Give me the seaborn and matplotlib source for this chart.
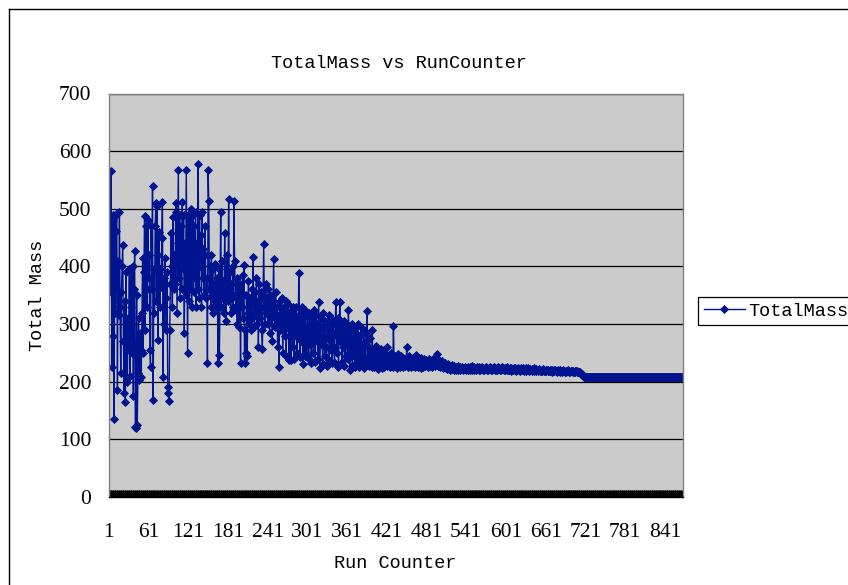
import matplotlib
matplotlib.use("Agg")
import matplotlib.pyplot as plt
from matplotlib.lines import Line2D
from matplotlib.ticker import MultipleLocator
import pandas as pd
import seaborn as sns

# ---- data (Total Mass per run) ----
mass_001_060 = [355, 370, 360, 565, 362, 226, 490, 280, 135, 488,
                320, 461, 492, 186, 410, 315, 495, 330, 215, 355,
                400, 438, 270, 180, 340, 165, 390, 255, 200, 310,
                261, 395, 210, 330, 398, 250, 400, 175, 360, 426,
                122, 120, 350, 125, 215, 310, 203, 285, 255, 209,
                320, 415, 250, 390, 487, 290, 470, 360, 330, 480]
mass_061_120 = [380, 420, 255, 226, 470, 360, 540, 168, 395, 320,
                470, 510, 340, 505, 273, 420, 460, 330, 395, 365,
                450, 512, 209, 380, 300, 415, 345, 290, 390, 190,
                180, 167, 290, 370, 458, 400, 330, 485, 360, 420,
                370, 495, 510, 320, 440, 568, 380, 490, 345, 470,
                360, 512, 395, 490, 284, 440, 350, 568, 410, 250]
mass_121_180 = [490, 340, 485, 360, 500, 330, 420, 490, 355, 470,
                380, 495, 330, 440, 360, 577, 345, 490, 400, 455,
                330, 495, 380, 430, 350, 470, 420, 345, 380, 232,
                568, 514, 360, 400, 330, 420, 350, 395, 320, 370,
                340, 405, 330, 380, 350, 232, 395, 247, 345, 494,
                330, 410, 355, 375, 320, 458, 340, 305, 420, 360]
mass_181_240 = [340, 517, 350, 390, 320, 370, 345, 400, 330, 513,
                409, 350, 325, 380, 300, 360, 340, 295, 370, 232,
                355, 330, 385, 310, 403, 232, 290, 249, 350, 244,
                320, 375, 300, 345, 330, 290, 360, 310, 416, 340,
                295, 355, 320, 380, 300, 340, 260, 370, 330, 310,
                355, 290, 257, 345, 439, 330, 300, 370, 320, 345]
mass_241_300 = [300, 360, 325, 285, 350, 310, 330, 270, 340, 413,
                320, 295, 355, 300, 330, 260, 310, 226, 340, 290,
                320, 345, 300, 250, 330, 310, 280, 340, 245, 320,
                295, 335, 237, 310, 290, 238, 325, 300, 260, 330,
                240, 315, 285, 330, 250, 305, 275, 389, 300, 243,
                320, 270, 330, 230, 310, 290, 245, 325, 280, 244]
mass_301_360 = [315, 290, 240, 320, 265, 300, 232, 310, 280, 250,
                325, 295, 235, 315, 270, 300, 240, 339, 285, 224,
                310, 265, 295, 230, 320, 280, 245, 305, 260, 228,
                300, 275, 315, 238, 290, 255, 310, 232, 285, 300,
                260, 233, 305, 338, 280, 250, 310, 226, 295, 338,
                270, 300, 235, 285, 260, 305, 228, 290, 245, 275]
mass_361_420 = [300, 240, 325, 265, 220, 290, 250, 300, 228, 275,
                245, 295, 225, 260, 285, 235, 300, 250, 225, 280,
                240, 295, 230, 265, 245, 290, 224, 270, 240, 285,
                322, 235, 260, 228, 275, 240, 252, 225, 290, 238,
                255, 226, 248, 232, 262, 228, 245, 222, 250, 235,
                228, 256, 224, 242, 230, 250, 226, 238, 232, 248]
mass_421_480 = [261, 228, 245, 230, 240, 225, 250, 232, 238, 226,
                296, 235, 228, 245, 230, 240, 224, 248, 232, 236,
                226, 244, 230, 238, 225, 242, 233, 228, 240, 230,
                261, 236, 226, 244, 230, 238, 225, 240, 232, 228,
                242, 230, 236, 226, 247, 232, 238, 226, 240, 230,
                235, 224, 242, 230, 236, 226, 240, 232, 228, 238]
mass_481_540 = [230, 236, 226, 240, 232, 228, 238, 230, 234, 226,
                240, 232, 236, 228, 242, 230, 248, 234, 228, 238,
                230, 226, 234, 228, 236, 224, 230, 226, 232, 224,
                228, 222, 230, 225, 228, 221, 226, 223, 229, 222,
                225, 220, 227, 222, 226, 220, 224, 221, 227, 222,
                225, 220, 224, 222, 226, 220, 224, 222, 225, 221]
mass_541_600 = [224, 222, 226, 220, 223, 221, 225, 222, 227, 220,
                224, 221, 226, 222, 223, 220, 225, 222, 224, 221,
                226, 220, 223, 222, 225, 221, 224, 220, 223, 222,
                226, 221, 224, 220, 223, 222, 225, 220, 224, 221,
                223, 222, 226, 220, 224, 221, 223, 220, 225, 222,
                224, 221, 223, 220, 225, 222, 224, 221, 223, 220]
mass_601_660 = [223, 221, 225, 220, 222, 221, 224, 219, 223, 221,
                222, 220, 224, 221, 223, 219, 222, 220, 224, 221,
                222, 219, 223, 220, 222, 221, 224, 219, 222, 220,
                223, 219, 221, 220, 223, 219, 222, 220, 221, 219,
                222, 220, 223, 218, 221, 219, 222, 220, 221, 218,
                222, 219, 221, 218, 220, 219, 222, 218, 221, 219]
mass_661_720 = [220, 218, 221, 219, 220, 218, 221, 219, 220, 217,
                220, 218, 221, 219, 220, 218, 219, 217, 220, 218,
                219, 217, 220, 218, 219, 217, 220, 218, 219, 217,
                218, 217, 219, 218, 220, 217, 218, 217, 219, 218,
                218, 217, 219, 217, 218, 216, 218, 217, 218, 216,
                217, 216, 216, 214, 213, 213, 211, 210, 209, 208]
mass_721_780 = [208, 208, 208, 208, 208, 208, 208, 208, 208, 208,
                208, 208, 208, 208, 208, 208, 208, 208, 208, 208,
                208, 208, 208, 208, 208, 208, 208, 208, 208, 208,
                208, 208, 208, 208, 208, 208, 208, 208, 208, 208,
                208, 208, 208, 208, 208, 208, 208, 208, 208, 208,
                208, 208, 208, 208, 208, 208, 208, 208, 208, 208]
mass_781_840 = [208, 208, 208, 208, 208, 208, 208, 208, 208, 208,
                208, 208, 208, 208, 208, 208, 208, 208, 208, 208,
                208, 208, 208, 208, 208, 208, 208, 208, 208, 208,
                208, 208, 208, 208, 208, 208, 208, 208, 208, 208,
                208, 208, 208, 208, 208, 208, 208, 208, 208, 208,
                208, 208, 208, 208, 208, 208, 208, 208, 208, 208]
mass_841_868 = [208, 208, 208, 208, 208, 208, 208, 208, 208, 208,
                208, 208, 208, 208, 208, 208, 208, 208, 208, 208,
                208, 208, 208, 208, 208, 208, 208, 208]

x_tick_labels = ["1", "61", "121", "181", "241", "301", "361", "421",
                 "481", "541", "601", "661", "721", "781", "841"]
y_tick_values = [0, 100, 200, 300, 400, 500, 600, 700]

total_mass = (mass_001_060 + mass_061_120 + mass_121_180 + mass_181_240 +
              mass_241_300 + mass_301_360 + mass_361_420 + mass_421_480 +
              mass_481_540 + mass_541_600 + mass_601_660 + mass_661_720 +
              mass_721_780 + mass_781_840 + mass_841_868)
run_counter = list(range(1, len(total_mass) + 1))
df = pd.DataFrame({"RunCounter": run_counter, "TotalMass": total_mass})

# ---- figure ----
W, H = 848, 585
fig = plt.figure(figsize=(W / 100, H / 100), dpi=100)
fig.patch.set_facecolor("white")

L, R, T, B = 108.5, 683.0, 93.5, 497.0
ax = fig.add_axes([L / W, 1 - B / H, (R - L) / W, (B - T) / H])
ax.set_facecolor("#CBCBCB")
ax.set_axisbelow(True)

navy = "#001490"
sns.lineplot(data=df, x="RunCounter", y="TotalMass", ax=ax, color=navy,
             linewidth=1.0, marker="D", markersize=4.4,
             markeredgecolor=navy, markerfacecolor=navy, markeredgewidth=0.6,
             label="TotalMass")

serif = "Liberation Serif"
mono = "Liberation Mono"

ax.set_xlim(0.5, len(total_mass) + 0.5)
ax.set_ylim(0, 700)
ax.set_yticks(y_tick_values)
ax.set_yticklabels([str(v) for v in y_tick_values], fontfamily=serif, fontsize=15.5)
ax.set_xticks([int(s) for s in x_tick_labels])
ax.set_xticklabels(x_tick_labels, fontfamily=serif, fontsize=15.5)
ax.xaxis.set_minor_locator(MultipleLocator(1))
ax.tick_params(axis="x", which="both", direction="in", length=5.0, width=0.7,
               color="black", pad=19, bottom=True, top=False)
ax.tick_params(axis="y", which="both", length=0, pad=12.5)

ax.yaxis.grid(True, color="black", linewidth=0.9)
ax.xaxis.grid(False)
for side in ("left", "right", "top"):
    ax.spines[side].set_color("#808080")
    ax.spines[side].set_linewidth(1.0)
ax.spines["bottom"].set_color("black")
ax.spines["bottom"].set_linewidth(1.0)

ax.set_title("TotalMass vs RunCounter", fontfamily=mono, fontsize=13.4,
             y=(B - 63) / (B - T), va="center", pad=0)
ax.title.set_x((399 - L) / (R - L))
ax.set_xlabel("Run Counter", fontfamily=mono, fontsize=13.4)
ax.xaxis.set_label_coords((395 - L) / (R - L), (B - 563) / (B - T))
ax.xaxis.label.set_va("center")
ax.set_ylabel("Total Mass", fontfamily=mono, fontsize=13.4)
ax.yaxis.set_label_coords((38 - L) / (R - L), (B - 295) / (B - T))
ax.yaxis.label.set_va("center")

handles, labels = ax.get_legend_handles_labels()
leg = ax.legend(handles, labels, loc="center left",
                bbox_to_anchor=(698 / W, 1 - 311 / H), bbox_transform=fig.transFigure,
                prop={"family": mono, "size": 13.4}, frameon=True, fancybox=False,
                framealpha=1, edgecolor="black", borderaxespad=0,
                handlelength=2.2, handletextpad=0.2, borderpad=0.3)
leg.get_frame().set_linewidth(0.9)

# outer chart border (left and top visible)
fig.add_artist(Line2D([8.5 / W, 8.5 / W], [0, 1 - 8.5 / H], color="black", lw=1.0))
fig.add_artist(Line2D([8.5 / W, 1], [1 - 8.5 / H, 1 - 8.5 / H], color="black", lw=1.0))

fig.savefig("out.png", dpi=100)
